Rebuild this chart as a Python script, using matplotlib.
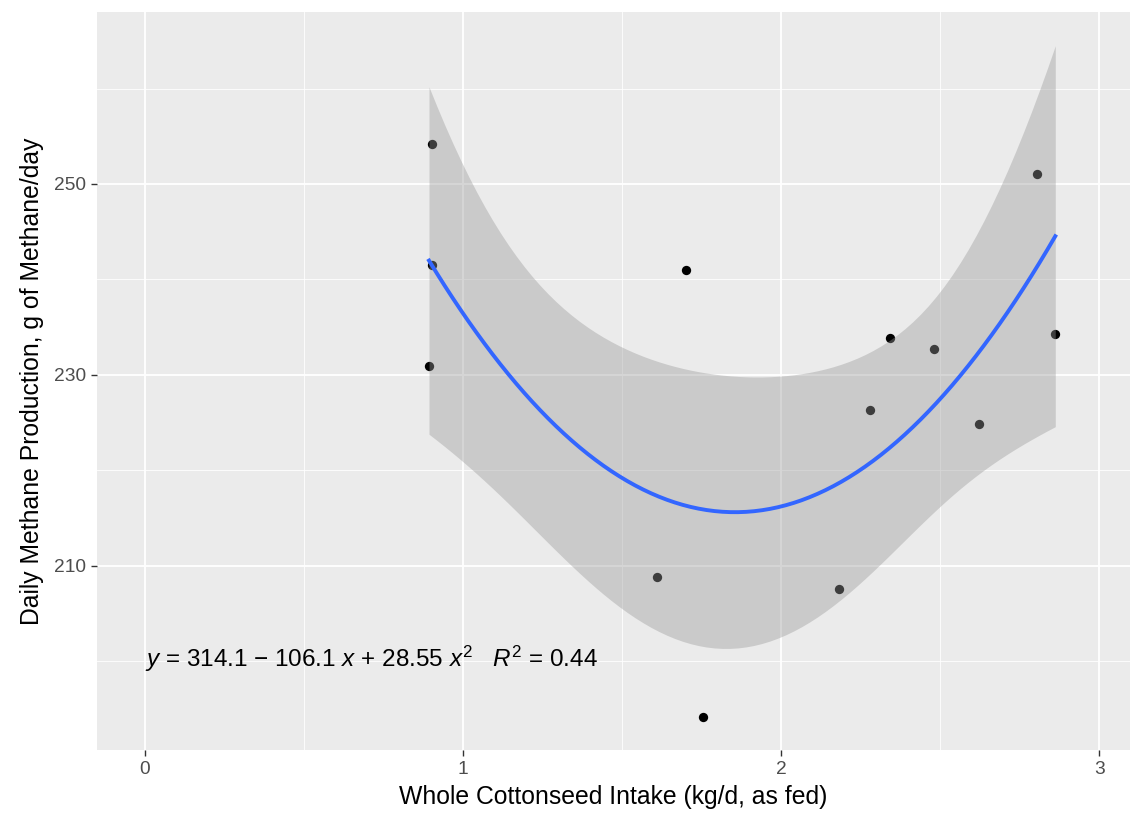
import numpy as np
import matplotlib
matplotlib.use("Agg")
import matplotlib.pyplot as plt
from matplotlib.ticker import MultipleLocator

plt.rcParams['font.family'] = ['Liberation Sans', 'DejaVu Sans']
plt.rcParams['mathtext.fontset'] = 'custom'
plt.rcParams['mathtext.rm'] = 'Liberation Sans'
plt.rcParams['mathtext.it'] = 'Liberation Sans:italic'

# data
intake = [0.903, 0.903, 0.893, 1.701, 1.610, 1.755, 2.182, 2.280, 2.343, 2.481, 2.623, 2.805, 2.862]
methane = [254.2, 241.5, 230.9, 241.0, 208.8, 194.2, 207.6, 226.3, 233.9, 232.7, 224.9, 251.0, 234.3]
x_ticks = [0, 1, 2, 3]
y_ticks = [210, 230, 250]
eq_label = r'$y$ = 314.1 − 106.1 $x$ + 28.55 $x^2$   $R^2$ = 0.44'
x_label = 'Whole Cottonseed Intake (kg/d, as fed)'
y_label = 'Daily Methane Production, g of Methane/day'

x = np.array(intake)
y = np.array(methane)

# quadratic fit with 95% confidence band
X = np.column_stack([np.ones_like(x), x, x**2])
beta, *_ = np.linalg.lstsq(X, y, rcond=None)
resid = y - X @ beta
dof = len(x) - 3
s2 = resid @ resid / dof
XtX_inv = np.linalg.inv(X.T @ X)
t_crit = 2.228  # t(0.975, df=10)
xs = np.linspace(x.min(), x.max(), 80)
Xs = np.column_stack([np.ones_like(xs), xs, xs**2])
ys = Xs @ beta
se = np.sqrt(s2 * np.einsum('ij,jk,ik->i', Xs, XtX_inv, Xs))
lo = ys - t_crit * se
hi = ys + t_crit * se

fig = plt.figure(figsize=(11.34, 8.13), dpi=100)
ax = fig.add_axes([0.0855, 0.0775, 0.9110, 0.9075])
ax.set_facecolor('#EBEBEB')
for s in ax.spines.values():
    s.set_visible(False)

ax.set_xlim(-0.151, 3.097)
ax.set_ylim(190.7, 268.0)
ax.xaxis.set_major_locator(MultipleLocator(1))
ax.xaxis.set_minor_locator(MultipleLocator(0.5))
ax.set_yticks(y_ticks)
ax.yaxis.set_minor_locator(MultipleLocator(10))
ax.set_xticks(x_ticks)
ax.grid(which='major', color='white', linewidth=1.3)
ax.grid(which='minor', color='white', linewidth=0.6)
ax.set_axisbelow(True)
ax.tick_params(which='major', length=4, width=1.0, color='#333333',
               labelcolor='#4D4D4D', labelsize=13.8, pad=4)
ax.tick_params(which='minor', length=0)

ax.scatter(x, y, s=45, color='black', zorder=3, linewidths=0)
ax.fill_between(xs, lo, hi, color='#999999', alpha=0.4, linewidth=0, zorder=4)
ax.plot(xs, ys, color='#3366FF', linewidth=2.8, zorder=5)

ax.text(0.0, 200.2, eq_label, fontsize=17.5, ha='left', va='center', zorder=6)

ax.set_xlabel(x_label, fontsize=17.8, color='black', labelpad=5)
ax.set_ylabel(y_label, fontsize=17.8, color='black', labelpad=7)

fig.savefig('out.png', dpi=100)
